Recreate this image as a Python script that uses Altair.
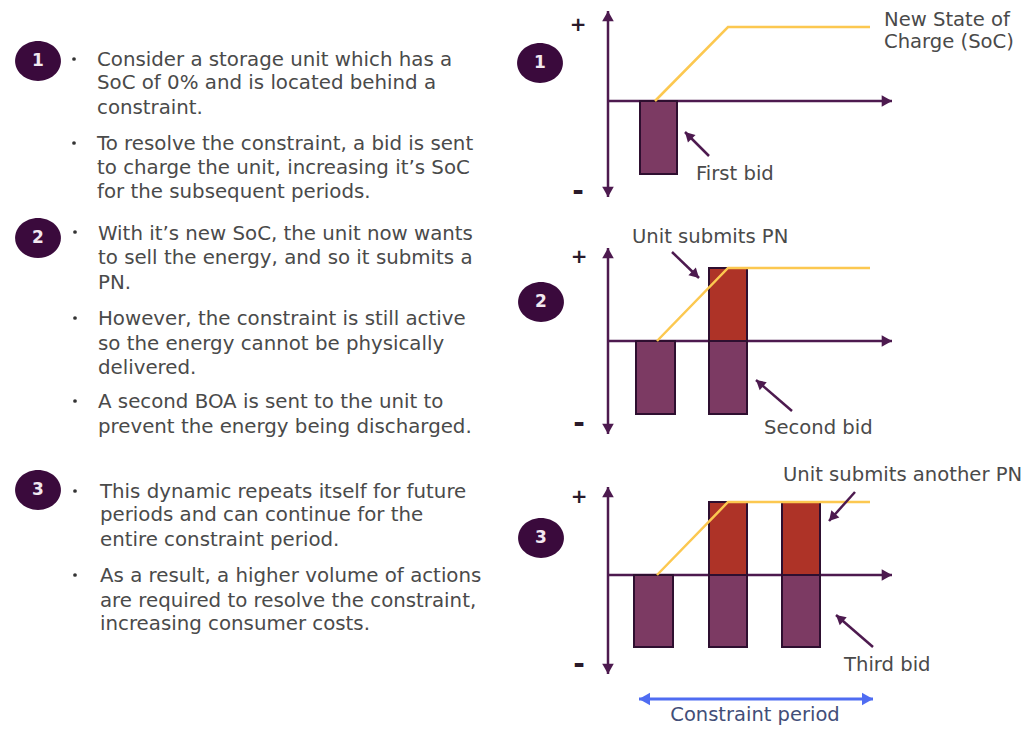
import math
import altair as alt
import pandas as pd

FONT = "DejaVu Sans"
DARK = "#4d1a4f"

# text rows: x, y, text
body_x = [97]*6 + [98]*8 + [100]*6
body_y = [60, 83, 108, 144, 168, 192, 234, 258, 283, 319, 344, 368, 402, 427, 492, 515, 540, 576, 601, 624]
body_text = [
    "Consider a storage unit which has a", "SoC of 0% and is located behind a", "constraint.",
    "To resolve the constraint, a bid is sent", "to charge the unit, increasing it’s SoC", "for the subsequent periods.",
    "With it’s new SoC, the unit now wants", "to sell the energy, and so it submits a", "PN.",
    "However, the constraint is still active", "so the energy cannot be physically", "delivered.",
    "A second BOA is sent to the unit to", "prevent the energy being discharged.",
    "This dynamic repeats itself for future", "periods and can continue for the", "entire constraint period.",
    "As a result, a higher volume of actions", "are required to resolve the constraint,", "increasing consumer costs.",
]
bullet_x = [74, 74, 75, 75, 75, 75, 75]
bullet_y = [59, 143, 232, 318, 401, 491, 575]

label_x = [884, 884, 696, 632, 764, 783, 844]
label_y = [20, 42, 174, 237, 428, 475, 665]
label_text = ["New State of", "Charge (SoC)", "First bid", "Unit submits PN", "Second bid", "Unit submits another PN", "Third bid"]

plus_x = [578, 579, 579]
plus_y = [25, 257, 497]
minus_x = [578, 579, 579]
minus_y = [192, 424, 665]

badge_x = [38, 38, 38, 540, 541, 541]
badge_y = [61, 238, 490, 63, 302, 538]
badge_text = ["1", "2", "3", "1", "2", "3"]

# bars: left, right, top, bottom
bid_x0 = [640, 636, 709, 634, 709, 782]
bid_x1 = [677, 675, 747, 673, 747, 820]
bid_y0 = [101, 341, 341, 575, 575, 575]
bid_y1 = [174, 414, 414, 647, 647, 647]
pn_x0 = [709, 709, 782]
pn_x1 = [747, 747, 820]
pn_y0 = [268, 502, 502]
pn_y1 = [341, 575, 575]

# state of charge lines
soc_panel = [1, 1, 1, 2, 2, 2, 3, 3, 3]
soc_x = [655, 728, 870, 657, 728, 870, 657, 728, 870]
soc_y = [101, 27, 27, 341, 268, 268, 575, 502, 502]

# arrows: start x, start y, tip x, tip y
ax_x0 = [608, 608, 608, 608, 608, 608, 608, 608, 608]
ax_y0 = [101, 101, 101, 341, 341, 341, 575, 575, 575]
ax_x1 = [608, 608, 892, 608, 608, 892, 608, 608, 892]
ax_y1 = [11, 197, 101, 248, 434, 341, 487, 674, 575]
note_x0 = [709, 672, 792, 855, 873]
note_y0 = [156, 252, 411, 492, 647]
note_x1 = [685, 699, 756, 829, 836]
note_y1 = [132, 278, 380, 521, 615]
span_x0 = [756, 756]
span_y0 = [699, 699]
span_x1 = [639, 873]
span_y1 = [699, 699]

x_scale = alt.Scale(domain=[8, 1022], nice=False, zero=False)
y_scale = alt.Scale(domain=[8, 727], nice=False, zero=False, reverse=True)
X = alt.X("x:Q", scale=x_scale, axis=None)
Y = alt.Y("y:Q", scale=y_scale, axis=None)
X0 = alt.X("x0:Q", scale=x_scale, axis=None)
Y0 = alt.Y("y0:Q", scale=y_scale, axis=None)

TIP = "M0,0L-0.62,1.1L0.62,1.1Z"
ELL = "M-1,0A1,0.87,0,1,1,1,0A1,0.87,0,1,1,-1,0Z"


def arrows(x0, y0, x1, y1, color, width, size):
    df = pd.DataFrame({"x0": x0, "y0": y0, "x": x1, "y": y1})
    df["ang"] = [math.degrees(math.atan2(c - a, b - d)) % 360 for a, b, c, d in zip(x0, y0, x1, y1)]
    shaft = alt.Chart(df).mark_rule(color=color, strokeWidth=width).encode(x=X0, y=Y0, x2="x:Q", y2="y:Q")
    head = alt.Chart(df).mark_point(shape=TIP, filled=True, color=color, opacity=1, size=size).encode(
        x=X, y=Y, angle=alt.Angle("ang:Q", scale=None))
    return shaft + head


def text(x, y, t, color, size, weight="normal", align="left"):
    df = pd.DataFrame({"x": x, "y": y, "t": t})
    return alt.Chart(df).mark_text(font=FONT, fontSize=size, color=color, align=align, baseline="middle",
                                   fontWeight=weight).encode(x=X, y=Y, text="t:N")


bids = alt.Chart(pd.DataFrame({"x0": bid_x0, "x": bid_x1, "y0": bid_y0, "y": bid_y1})).mark_rect(
    color="#7c3a63", stroke="#2e0f30", strokeWidth=2).encode(x=X0, x2="x:Q", y=Y0, y2="y:Q")
pns = alt.Chart(pd.DataFrame({"x0": pn_x0, "x": pn_x1, "y0": pn_y0, "y": pn_y1})).mark_rect(
    color="#ae3327", stroke="#2e0f30", strokeWidth=2).encode(x=X0, x2="x:Q", y=Y0, y2="y:Q")
soc = alt.Chart(pd.DataFrame({"p": soc_panel, "x": soc_x, "y": soc_y, "o": range(9)})).mark_line(
    color="#fcc850", strokeWidth=2.5).encode(x=X, y=Y, detail="p:N", order="o:Q")
badges = alt.Chart(pd.DataFrame({"x": badge_x, "y": badge_y})).mark_point(
    shape=ELL, filled=True, color="#3a0a3c", opacity=1, size=2100).encode(x=X, y=Y)
bullets = alt.Chart(pd.DataFrame({"x": bullet_x, "y": bullet_y})).mark_point(
    shape="circle", filled=True, color="#333333", opacity=1, size=14).encode(x=X, y=Y)

chart = alt.layer(
    arrows(ax_x0, ax_y0, ax_x1, ax_y1, DARK, 2.5, 350),
    bids, pns, soc,
    arrows(note_x0, note_y0, note_x1, note_y1, DARK, 2.5, 300),
    arrows(span_x0, span_y0, span_x1, span_y1, "#4f6cf2", 3, 400),
    badges, bullets,
    text(badge_x, badge_y, badge_text, "#f2e8f0", 17, "bold", "center"),
    text(body_x, body_y, body_text, "#4a4a4a", 19.8),
    text(label_x, label_y, label_text, "#4a4a4a", 19.6),
    text(plus_x, plus_y, ["+"] * 3, "#2a1a2a", 20, "bold", "center"),
    text(minus_x, minus_y, ["-"] * 3, "#2a1a2a", 28, "bold", "center"),
    text([755], [715], ["Constraint period"], "#424e78", 19.5, "normal", "center"),
).properties(width=1014, height=719, padding=0, autosize=alt.AutoSizeParams(type="none")).configure_view(stroke=None)

chart.save("out.html", embed_options={"renderer": "svg", "actions": False})
